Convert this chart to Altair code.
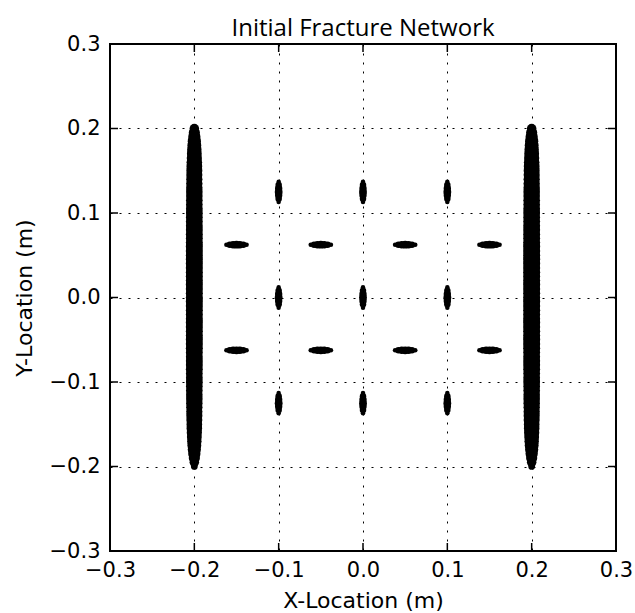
import altair as alt
import pandas as pd

# Large fractures (x = -0.2 and x = 0.2), point locations along y and apertures
BIG_X = [-0.2, 0.2]
BIG_Y = [-0.200, -0.195, -0.190, -0.185, -0.180, -0.175, -0.170, -0.165, -0.160, -0.155,
         -0.150, -0.145, -0.140, -0.135, -0.130, -0.125, -0.120, -0.115, -0.110, -0.105,
         -0.100, -0.095, -0.090, -0.085, -0.080, -0.075, -0.070, -0.065, -0.060, -0.055,
         -0.050, -0.045, -0.040, -0.035, -0.030, -0.025, -0.020, -0.015, -0.010, -0.005,
         0.000, 0.005, 0.010, 0.015, 0.020, 0.025, 0.030, 0.035, 0.040, 0.045,
         0.050, 0.055, 0.060, 0.065, 0.070, 0.075, 0.080, 0.085, 0.090, 0.095,
         0.100, 0.105, 0.110, 0.115, 0.120, 0.125, 0.130, 0.135, 0.140, 0.145,
         0.150, 0.155, 0.160, 0.165, 0.170, 0.175, 0.180, 0.185, 0.190, 0.195, 0.200]
BIG_AP = [0.60, 0.85, 1.00, 1.10, 1.18, 1.24, 1.29, 1.33, 1.36, 1.39,
          1.41, 1.43, 1.44, 1.45, 1.46, 1.47, 1.48, 1.48, 1.49, 1.49,
          1.50, 1.50, 1.50, 1.51, 1.51, 1.51, 1.51, 1.51, 1.52, 1.52,
          1.52, 1.52, 1.52, 1.52, 1.52, 1.52, 1.52, 1.52, 1.52, 1.52,
          1.52,
          1.52, 1.52, 1.52, 1.52, 1.52, 1.52, 1.52, 1.52, 1.52, 1.52,
          1.52, 1.52, 1.52, 1.51, 1.51, 1.51, 1.51, 1.51, 1.50, 1.50,
          1.50, 1.49, 1.49, 1.48, 1.48, 1.47, 1.46, 1.45, 1.44, 1.43,
          1.41, 1.39, 1.36, 1.33, 1.29, 1.24, 1.18, 1.10, 1.00, 0.85, 0.60]

# Small fractures: centres and the point offsets / apertures along each one
VERT_CX = [-0.1, 0.0, 0.1, -0.1, 0.0, 0.1, -0.1, 0.0, 0.1]
VERT_CY = [0.125, 0.125, 0.125, 0.0, 0.0, 0.0, -0.125, -0.125, -0.125]
HORZ_CX = [-0.15, -0.05, 0.05, 0.15, -0.15, -0.05, 0.05, 0.15]
HORZ_CY = [0.0625, 0.0625, 0.0625, 0.0625, -0.0625, -0.0625, -0.0625, -0.0625]
SMALL_OFF = [-0.012, -0.008, -0.004, 0.0, 0.004, 0.008, 0.012]
SMALL_AP = [0.40, 0.58, 0.66, 0.70, 0.66, 0.58, 0.40]

TICKS = [-0.3, -0.2, -0.1, 0.0, 0.1, 0.2, 0.3]

rows = []
for bx in BIG_X:
    for yy, ap in zip(BIG_Y, BIG_AP):
        rows.append({"x": bx, "y": yy, "ap": ap})
for cx, cy in zip(VERT_CX, VERT_CY):
    for off, ap in zip(SMALL_OFF, SMALL_AP):
        rows.append({"x": cx, "y": cy + off, "ap": ap})
for cx, cy in zip(HORZ_CX, HORZ_CY):
    for off, ap in zip(SMALL_OFF, SMALL_AP):
        rows.append({"x": cx + off, "y": cy, "ap": ap})
df = pd.DataFrame(rows)
tick_df = pd.DataFrame({"x": TICKS, "y": TICKS})

W, H = 506, 507
xscale = alt.Scale(domain=[-0.3, 0.3], nice=False, zero=False)
yscale = alt.Scale(domain=[-0.3, 0.3], nice=False, zero=False)

axis_common = dict(
    values=TICKS, format=".1f", grid=True, gridDash=[2, 7], gridColor="black",
    gridWidth=1, gridOpacity=1, ticks=False, domain=False, labelFlush=False,
    labelFont="DejaVu Sans", labelFontSize=21, labelColor="black",
    titleFont="DejaVu Sans", titleFontSize=22, titleFontWeight="normal",
    titleColor="black",
)
xaxis = alt.Axis(title="X-Location (m)", labelPadding=8,
                 titleY=56, titleBaseline="alphabetic", **axis_common)
yaxis = alt.Axis(title="Y-Location (m)", labelPadding=10,
                 titleX=-79, titleY=H / 2, titleAlign="center",
                 titleBaseline="alphabetic", **axis_common)

X = alt.X("x:Q", scale=xscale, axis=xaxis)
Y = alt.Y("y:Q", scale=yscale, axis=yaxis)

points = alt.Chart(df).mark_circle(color="black", opacity=1).encode(
    x=X, y=Y,
    size=alt.Size("ap:Q", scale=alt.Scale(type="pow", exponent=2, domain=[0, 1.52],
                                          range=[0, 290]), legend=None),
)

tick_style = dict(color="black", strokeWidth=1.5)
bottom = alt.Chart(tick_df).mark_rule(**tick_style).encode(
    x=X, y=alt.value(H), y2=alt.value(H - 8))
top = alt.Chart(tick_df).mark_rule(**tick_style).encode(
    x=X, y=alt.value(0), y2=alt.value(8))
left = alt.Chart(tick_df).mark_rule(**tick_style).encode(
    y=Y, x=alt.value(0), x2=alt.value(8))
right = alt.Chart(tick_df).mark_rule(**tick_style).encode(
    y=Y, x=alt.value(W), x2=alt.value(W - 8))

chart = alt.layer(points, bottom, top, left, right).properties(
    width=W, height=H,
    title=alt.TitleParams("Initial Fracture Network", font="Open Sans", fontSize=24,
                          fontWeight="normal", color="black", anchor="middle",
                          offset=8, dy=16),
    autosize=alt.AutoSizeParams(type="none"),
    padding={"left": 110, "top": 44, "right": 19, "bottom": 62},
).configure(background="white").configure_view(stroke="black", strokeWidth=2)

chart.save("out.html", embed_options={"renderer": "svg", "actions": False})
